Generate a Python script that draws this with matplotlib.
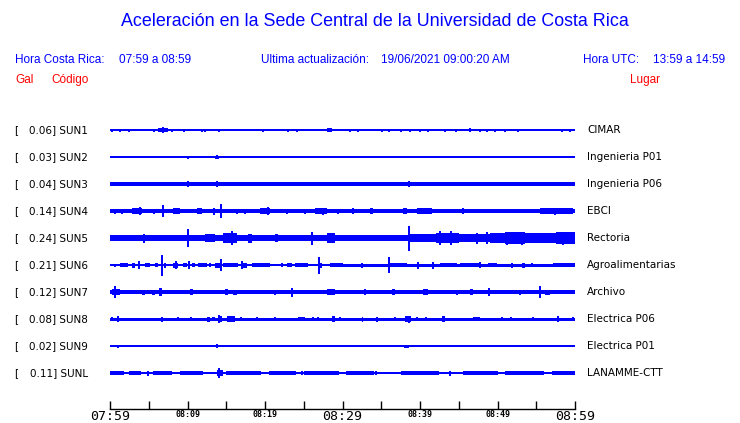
import matplotlib
matplotlib.use("Agg")
import matplotlib.pyplot as plt
import matplotlib.transforms as mtransforms

# station info
codes = ["SUN1", "SUN2", "SUN3", "SUN4", "SUN5", "SUN6", "SUN7", "SUN8", "SUN9", "SUNL"]
gals = [0.06, 0.03, 0.04, 0.14, 0.24, 0.21, 0.12, 0.08, 0.02, 0.11]
places = ["CIMAR", "Ingenieria P01", "Ingenieria P06", "EBCI", "Rectoria",
          "Agroalimentarias", "Archivo", "Electrica P06", "Electrica P01", "LANAMME-CTT"]

# trace envelopes: minutes after 07:59, half-amplitude
# base level: (t0, t1, half)
base = {
    "SUN1": [(0, 60, 0.6)],
    "SUN2": [(0, 60, 0.6)],
    "SUN3": [(0, 60, 1.6)],
    "SUN4": [(0, 30, 2.0), (30, 60, 2.3)],
    "SUN5": [(0, 38.5, 3.0), (38.5, 49, 4.0), (49, 60, 5.2)],
    "SUN6": [(0, 29.7, 1.0), (29.7, 60, 1.5)],
    "SUN7": [(0, 60, 1.6)],
    "SUN8": [(0, 60, 1.5)],
    "SUN9": [(0, 60, 0.6)],
    "SUNL": [(0, 60, 1.3)],
}
# bursts: (t0, t1, half)
bursts = {
    "SUN1": [(4.4, 4.9, 1.3), (6.2, 7.5, 1.8), (15.7, 17.0, 1.2), (20.9, 22.2, 1.2),
             (26.1, 26.8, 1.2), (28.0, 28.6, 1.8), (33.3, 33.8, 1.3), (56.4, 57.2, 1.3)],
    "SUN2": [(13.6, 14.0, 1.5)],
    "SUN3": [(0, 5.8, 1.8)],
    "SUN4": [(2.8, 4.1, 3.2), (8.1, 9.0, 2.6), (11.2, 11.9, 2.6), (13.3, 13.5, 3.5),
             (19.4, 20.6, 3.0), (26.5, 28.0, 2.8), (33.5, 33.9, 3.3), (37.8, 38.3, 3.3),
             (39.6, 41.5, 2.8), (55.5, 59.7, 2.9)],
    "SUN5": [(4.2, 4.5, 4.5), (12.3, 13.5, 3.8), (14.6, 16.4, 5.0), (17.8, 18.3, 4.5),
             (21.3, 21.7, 4.2), (28.0, 29.0, 4.8), (42.0, 45.0, 4.6), (51.0, 53.5, 5.8),
             (57.5, 60.0, 5.8)],
    "SUN6": [(1.3, 2.3, 2.0), (2.8, 3.2, 2.5), (4.5, 5.2, 2.0), (5.8, 6.2, 2.0),
             (8.1, 8.8, 2.5), (9.4, 9.9, 2.0), (10.6, 11.0, 2.0), (11.4, 12.5, 2.0),
             (13.5, 14.2, 2.5), (14.6, 16.5, 2.3), (17.2, 17.7, 2.5), (18.3, 20.6, 2.0),
             (22.8, 23.5, 2.0), (23.9, 25.5, 2.0), (26.8, 27.3, 2.5), (28.4, 30.0, 2.0),
             (36.1, 38.3, 2.0), (42.6, 44.8, 2.0), (45.2, 47.7, 2.0), (48.8, 49.9, 2.0),
             (51.7, 52.0, 2.5), (53.2, 53.5, 2.5), (57.2, 60.0, 2.0)],
    "SUN7": [(0.3, 1.3, 3.0), (1.7, 2.3, 2.2), (4.1, 4.5, 2.5), (5.4, 5.8, 2.5),
             (6.3, 6.7, 3.6), (10.3, 10.7, 3.0), (14.8, 15.2, 3.2), (15.9, 16.4, 2.5),
             (28.0, 29.0, 2.8), (36.4, 36.8, 3.0), (40.4, 41.0, 3.2), (46.5, 46.8, 3.0),
             (56.1, 56.8, 2.5)],
    "SUN8": [(12.5, 12.9, 2.5), (13.2, 13.5, 2.2), (14.0, 14.5, 2.8), (15.1, 16.1, 2.8),
             (16.8, 17.0, 2.2), (24.3, 25.2, 2.4), (28.6, 29.0, 2.8), (32.5, 32.6, 2.5),
             (38.0, 38.9, 2.8), (42.8, 43.2, 2.8), (46.8, 47.7, 2.4), (57.7, 57.9, 3.0)],
    "SUN9": [(0.9, 1.2, 1.5), (37.9, 38.6, 1.5)],
    "SUNL": [(0, 1.8, 1.7), (2.5, 4.0, 1.7), (5.5, 8.0, 1.7), (9.0, 12.0, 1.7),
             (13.8, 14.6, 2.8), (15.0, 19.5, 1.7), (20.5, 24.0, 1.7), (25.0, 29.5, 1.7),
             (30.5, 34.0, 1.7), (37.5, 42.5, 1.7), (45.5, 50.0, 1.7), (51.0, 56.0, 1.7),
             (57.0, 60.0, 1.7)],
}
# single spikes: (t, half)
spikes = {
    "SUN1": [(0.2, 1.5), (1.3, 1.5), (2.5, 1.5), (5.7, 1.5), (6.8, 3.0), (8.0, 1.5),
             (9.6, 1.5), (11.9, 1.5), (12.3, 1.5), (14.1, 1.5), (19.8, 1.5), (23.0, 1.5),
             (24.1, 1.5), (31.0, 1.5), (32.0, 1.5), (35.1, 1.5), (36.0, 1.5), (37.5, 1.5),
             (38.7, 1.5), (40.0, 1.5), (41.0, 1.5), (43.2, 1.5), (44.6, 1.5), (46.5, 2.0),
             (47.7, 1.5), (48.6, 1.5), (49.7, 1.5), (51.0, 1.5), (52.6, 1.5), (58.3, 1.5),
             (59.4, 1.5)],
    "SUN2": [(0.3, 1.3), (10.0, 1.5), (13.8, 1.8)],
    "SUN3": [(10.0, 3.0), (13.8, 3.0), (38.6, 3.0), (43.5, 2.2), (51.8, 2.0)],
    "SUN4": [(0.6, 2.5), (1.5, 2.5), (3.9, 4.0), (5.7, 2.5), (6.8, 5.7), (14.3, 7.0),
             (16.4, 2.5), (17.4, 2.5), (20.4, 4.0), (22.8, 2.5), (25.2, 2.5), (27.5, 3.5),
             (29.4, 2.5), (31.4, 3.0), (45.5, 3.0), (57.4, 3.5)],
    "SUN5": [(10.0, 9.0), (15.7, 7.0), (26.0, 6.5), (38.6, 12.5), (42.6, 7.0),
             (44.0, 7.0), (47.4, 5.5), (48.6, 6.0), (51.2, 6.5), (53.2, 6.5),
             (58.5, 6.5), (59.1, 6.0)],
    "SUN6": [(0.6, 1.5), (3.7, 4.0), (6.7, 10.5), (7.1, 2.5), (8.5, 4.0), (10.2, 4.0),
             (12.9, 2.0), (14.3, 6.0), (17.0, 4.0), (22.2, 2.0), (27.0, 8.5), (32.5, 2.5),
             (36.0, 8.0), (39.7, 3.5), (41.7, 3.5), (47.7, 3.0), (54.5, 2.0)],
    "SUN7": [(0.6, 6.0), (6.6, 4.0), (12.3, 2.2), (14.2, 2.2), (18.3, 2.2), (20.0, 2.2),
             (21.3, 2.5), (23.5, 4.5), (24.8, 2.0), (26.7, 2.2), (30.1, 2.2), (32.9, 3.0),
             (33.9, 2.2), (43.6, 2.2), (44.8, 2.5), (48.9, 4.0), (50.6, 2.2), (52.9, 2.5),
             (55.5, 6.3), (59.1, 2.2)],
    "SUN8": [(0.3, 2.2), (1.0, 3.0), (6.7, 2.5), (8.8, 2.0), (10.5, 2.0), (14.0, 4.0),
             (19.0, 2.2), (21.3, 2.2), (26.2, 2.2), (26.8, 2.2), (29.7, 2.2), (34.4, 2.5),
             (36.8, 2.2), (38.6, 3.5), (39.6, 2.2), (40.8, 2.2), (50.6, 2.2), (51.7, 2.2),
             (54.6, 2.2), (59.7, 2.2)],
    "SUN9": [(1.0, 1.5), (10.0, 1.0), (13.8, 1.6), (14.2, 1.2), (16.0, 1.0), (23.5, 1.0),
             (24.3, 1.0), (34.1, 1.0), (35.9, 1.0), (46.8, 1.0), (47.5, 1.0), (48.9, 1.0),
             (49.5, 1.0), (50.6, 1.0)],
    "SUNL": [(4.9, 2.5), (14.0, 5.3), (24.8, 2.0), (26.2, 1.8), (34.3, 2.0), (43.9, 2.5)],
}

ticks = list(range(0, 61, 5))
tick_text = {0: "07:59", 10: "08:09", 20: "08:19", 30: "08:29",
             40: "08:39", 50: "08:49", 60: "08:59"}

BLUE = "#0000ff"
RED = "#ff0000"
ROW = 27

fig = plt.figure(figsize=(7.4, 4.23), dpi=100)
W, H = 740, 423
ax = fig.add_axes([110 / W, (H - 409) / H, 465 / W, 306 / H])
ax.set_xlim(0, 60)
ax.set_ylim(10.333 * ROW, -ROW)

for i, c in enumerate(codes):
    off = i * ROW
    for t0, t1, h in base[c]:
        ax.fill_between([t0, t1], off - h, off + h, color=BLUE, lw=0, antialiased=False)
    for t0, t1, h in bursts[c]:
        ax.fill_between([t0, t1], off - h, off + h, color=BLUE, lw=0, antialiased=False)
    for t, h in spikes[c]:
        ax.vlines(t, off - h, off + h, color=BLUE, lw=1.1, antialiased=False)

for s in ["top", "left", "right"]:
    ax.spines[s].set_visible(False)
ax.spines["bottom"].set_linewidth(1.0)
ax.set_yticks([])
ax.set_xticks(ticks)
ax.set_xticklabels([tick_text.get(t, "") for t in ticks])
ax.tick_params(axis="x", direction="in", length=6, width=1, pad=1)
for t, lab in zip(ticks, ax.get_xticklabels()):
    lab.set_family("DejaVu Sans Mono")
    if t in (0, 30, 60):
        lab.set_fontsize(9.5)
    else:
        lab.set_fontsize(6)
        lab.set_fontweight("bold")

# labels left and right of each trace
tr = mtransforms.blended_transform_factory(fig.transFigure, ax.transData)
for i, c in enumerate(codes):
    off = i * ROW
    ax.text(14 / W, off, "[", transform=tr, fontsize=7.5, va="center", ha="left")
    ax.text(88 / W, off, f"{gals[i]:.2f}] {c}", transform=tr, fontsize=7.5,
            va="center", ha="right")
    ax.text(587 / W, off, places[i], transform=tr, fontsize=7.5, va="center", ha="left")

hdr = dict(family="Liberation Sans", color=BLUE)
fig.text(375 / W, 1 - 22 / H, "Aceleración en la Sede Central de la Universidad de Costa Rica",
         fontsize=12.9, ha="center", va="center", **hdr)
fig.text(15 / W, 1 - 60 / H, "Hora Costa Rica:", fontsize=8.5, va="center", **hdr)
fig.text(119 / W, 1 - 60 / H, "07:59 a 08:59", fontsize=8.5, va="center", **hdr)
fig.text(261 / W, 1 - 60 / H, "Ultima actualización:", fontsize=8.5, va="center", **hdr)
fig.text(381 / W, 1 - 60 / H, "19/06/2021 09:00:20 AM", fontsize=8.5, va="center", **hdr)
fig.text(583 / W, 1 - 60 / H, "Hora UTC:", fontsize=8.5, va="center", **hdr)
fig.text(653 / W, 1 - 60 / H, "13:59 a 14:59", fontsize=8.5, va="center", **hdr)
red = dict(family="Liberation Sans", color=RED, fontsize=8.5, va="center")
fig.text(15 / W, 1 - 80 / H, "Gal", **red)
fig.text(51 / W, 1 - 80 / H, "Código", **red)
fig.text(630 / W, 1 - 80 / H, "Lugar", **red)

fig.savefig("out.png", dpi=100)
